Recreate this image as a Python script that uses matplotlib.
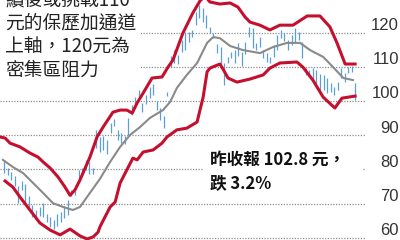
import matplotlib
matplotlib.use("Agg")
import matplotlib.pyplot as plt
from matplotlib.patches import Rectangle

# DATOS: dias de negociacion, maximos y minimos diarios (barras azules)
highs = [82.8, 80.4, 79.3, 78.1, 75.1, 76.6, 75.7, 72.2, 69.6, 68.1,
         69.0, 70.2, 66.9, 66.0, 65.2, 66.9, 67.5, 69.3, 71.0, 74.0,
         73.7, 79.8, 80.4, 82.8, 82.2, 80.4, 91.6, 89.5, 89.8, 88.6,
         93.6, 94.8, 91.6, 90.7, 89.8, 95.1, 98.9, 101.3, 103.3, 99.5,
         101.8, 104.2, 105.1, 100.1, 98.0, 95.7, 102.7, 113.3, 115.0, 113.6,
         118.0, 120.3, 120.3, 120.9, 126.2, 128.2, 127.3, 125.3, 121.8, 120.0,
         116.8, 115.9, 111.2, 113.0, 114.4, 115.0, 117.1, 114.4, 117.4, 121.8,
         121.5, 117.1, 118.8, 115.0, 114.2, 113.0, 116.5, 119.4, 120.9, 120.0,
         118.0, 119.4, 121.5, 120.3, 117.4, 109.7, 109.2, 109.7, 109.2, 108.0,
         107.7, 106.8, 105.4, 104.2, 105.6, 109.7, 108.3, 110.0, 110.3, 105.4]
lows = [79.0, 78.4, 76.9, 75.1, 70.2, 74.0, 70.2, 69.0, 66.0, 65.8,
        66.3, 66.0, 64.6, 63.1, 62.5, 63.4, 64.6, 65.8, 66.6, 72.2,
        72.5, 77.5, 78.4, 79.8, 78.7, 78.7, 86.3, 85.1, 85.7, 84.5,
        90.7, 92.7, 88.6, 87.8, 87.5, 90.1, 96.0, 98.0, 101.5, 96.9,
        99.2, 101.0, 101.8, 97.4, 94.5, 92.2, 101.5, 110.0, 111.2, 110.9,
        114.4, 115.0, 117.4, 118.8, 122.4, 124.4, 123.2, 121.5, 120.0, 118.6,
        114.2, 110.6, 104.8, 111.2, 112.7, 111.2, 113.3, 110.3, 113.9, 118.8,
        115.6, 115.0, 115.9, 112.7, 111.5, 111.2, 113.0, 115.0, 118.6, 117.7,
        115.0, 116.5, 117.1, 118.0, 112.7, 107.7, 107.1, 105.6, 104.5, 103.3,
        103.3, 102.4, 102.7, 101.8, 103.3, 106.8, 105.6, 108.3, 108.6, 100.4]
days = list(range(len(highs)))

# BANDA SUPERIOR (roja)
upper_days = [-1.1, 0.3, 1.7, 4.5, 7.3, 9.6, 11.0, 13.0, 15.2, 17.2, 18.6, 20.0, 21.4,
              24.2, 26.2, 27.9, 30.7, 32.7, 34.6, 36.1, 37.5, 39.2, 41.7, 44.5, 46.2,
              47.6, 50.4, 53.2, 55.2, 56.6, 58.0, 60.8, 63.7, 65.9, 67.9, 69.3, 72.1,
              74.9, 77.7, 81.4, 85.4, 89.0, 91.8, 93.8, 96.1, 98.9]
upper_vals = [89.5, 89.2, 87.7, 86.6, 84.8, 83.6, 82.2, 80.4, 77.8, 74.8, 72.4, 74.0, 76.9,
              83.6, 89.5, 92.4, 96.8, 97.4, 97.4, 96.5, 99.5, 102.4, 106.8, 107.1, 110.0,
              112.1, 120.0, 125.9, 129.4, 130.9, 129.1, 128.5, 128.8, 127.6, 124.7, 123.2, 122.3,
              120.9, 122.3, 122.3, 125.0, 125.0, 121.8, 117.1, 110.9, 110.9]

# BANDA INFERIOR (roja)
lower_days = [0.3, 2.5, 4.5, 7.3, 10.1, 13.0, 15.8, 18.6, 21.4, 23.4, 25.1, 26.5, 27.0,
              29.9, 31.3, 32.7, 36.3, 37.5, 39.2, 42.0, 44.5, 45.9, 48.7, 51.5, 54.4,
              55.2, 56.1, 57.2, 58.0, 60.8, 61.7, 63.1, 65.6, 69.3, 73.0, 74.9, 77.7,
              82.5, 84.2, 87.0, 89.9, 93.2, 95.2, 98.9]
lower_vals = [76.6, 74.8, 71.9, 68.1, 64.3, 62.2, 60.8, 62.5, 60.5, 59.6, 60.2, 61.6, 63.1,
              69.0, 70.4, 76.0, 83.3, 82.8, 85.1, 85.7, 87.7, 89.5, 91.6, 92.1, 93.9,
              97.4, 101.2, 108.6, 109.7, 110.9, 109.4, 106.8, 105.6, 106.5, 107.7, 109.7, 111.2,
              111.5, 110.0, 106.2, 101.2, 98.0, 100.9, 101.5]

# MEDIA MOVIL (gris)
mid_days = [-0.3, 2.5, 5.4, 8.2, 11.0, 13.8, 16.6, 19.4, 21.4, 24.2, 27.0, 29.9, 32.7,
            35.5, 38.3, 41.1, 44.8, 46.8, 48.7, 51.5, 54.4, 57.2, 58.9, 60.8, 63.7,
            67.3, 72.1, 75.8, 79.7, 83.4, 86.2, 89.9, 92.7, 95.6, 98.3]
mid_vals = [82.8, 80.7, 78.9, 76.0, 73.1, 70.1, 69.0, 68.1, 69.0, 73.1, 77.2, 82.2, 86.6,
            90.1, 92.4, 95.1, 97.4, 99.8, 103.9, 107.7, 111.2, 117.1, 118.8, 118.5, 116.2,
            115.0, 114.1, 115.9, 117.1, 117.1, 115.0, 113.0, 110.0, 106.8, 106.2]

grid_vals = [60, 70, 80, 90, 100, 110, 120]

note_top = ["續後或挑戰110", "元的保歷加通道", "上軸，120元為", "密集區阻力"]
note_bottom = ["昨收報 102.8 元，", "跌 3.2%"]

plt.rcParams['font.family'] = ['Noto Sans CJK TC', 'DejaVu Sans']

fig = plt.figure(figsize=(4, 2.4), dpi=100)
ax = fig.add_axes([0, 0, 1, 1])
ax.set_xlim(-1.13, 111.55)
ax.set_ylim(59.3, 129.68)
ax.axis('off')

# LINEAS DE REFERENCIA PUNTEADAS
ax.hlines(grid_vals, -1.13, 101.7, colors='#8c8c8c', linestyles=(0, (1, 1.2)), lw=0.9, zorder=1)
for v in grid_vals:
    ax.text(111.3, v + 0.8, str(v), ha='right', va='baseline', fontsize=12,
            color='#333333', family='Liberation Sans', zorder=6)

# BARRAS DIARIAS
ax.vlines(days, lows, highs, colors='#5a9fd8', lw=0.9, zorder=2)

# BANDAS
ax.plot(mid_days, mid_vals, color='#8a8a8a', lw=1.5, zorder=3)
ax.plot(upper_days, upper_vals, color='#c4102e', lw=2.2, zorder=4, solid_joinstyle='round')
ax.plot(lower_days, lower_vals, color='#c4102e', lw=2.2, zorder=4, solid_joinstyle='round')

# CAJAS BLANCAS PARA EL TEXTO
ax.add_patch(Rectangle((0, 0.646), 0.352, 0.36, transform=ax.transAxes,
                       facecolor='white', edgecolor='none', zorder=5))
ax.add_patch(Rectangle((0.51, 0.19), 0.395, 0.205, transform=ax.transAxes,
                       facecolor='white', edgecolor='none', zorder=5))

# el primer renglon queda cortado arriba, como en el original
for i, s in enumerate(note_top):
    ax.text(0.0125, 1 - (0 + 23.5 * i) / 240, s, ha='left', va='center',
            fontsize=13.5, color='#222222', transform=ax.transAxes, zorder=6)
for i, s in enumerate(note_bottom):
    ax.text(0.525, 1 - (160 + 23.5 * i) / 240, s, ha='left', va='center',
            fontsize=12, fontweight='bold', color='#111111', transform=ax.transAxes, zorder=6)

fig.savefig('out.png', dpi=100)
